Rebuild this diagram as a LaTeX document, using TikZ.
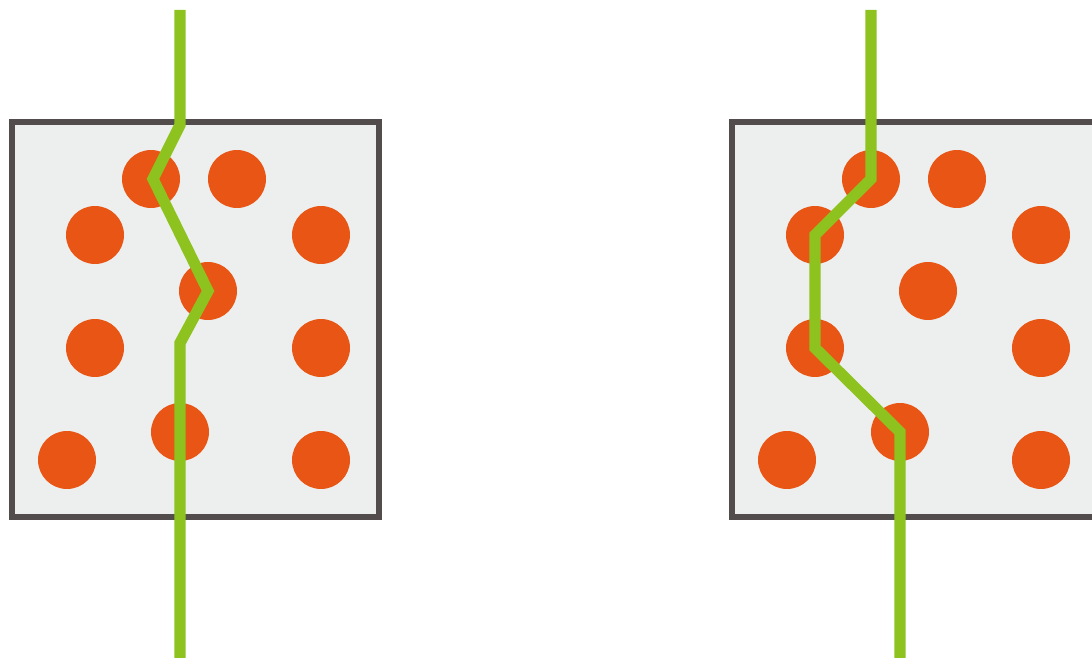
\documentclass[tikz,border=0pt]{standalone}
\usepackage{tikz}

\definecolor{grainorange}{RGB}{232,85,20}
\definecolor{crackgreen}{RGB}{141,194,31}
\definecolor{samplefill}{RGB}{237,239,238}
\definecolor{sampleedge}{RGB}{82,76,76}

\begin{document}
\begin{tikzpicture}[
            x=0.02cm,
            y=-0.02cm,
            sample/.style={draw=sampleedge, fill=samplefill, line width=3.6pt},
            grain/.style={fill=grainorange},
            crack/.style={draw=crackgreen, line width=6.4pt}
        ]
        \useasboundingbox (0,0) rectangle (1092,658);

        % two samples with the same grains
        \foreach \dx in {0,720} {
            \draw[sample] (12+\dx,122) rectangle (379+\dx,517);
            \foreach \px/\py in {151/179, 237/179, 95/235, 321/235, 208/291,
                                 95/348, 321/348, 180/432, 67/460, 321/460}
                \fill[grain] (\px+\dx,\py) circle[radius=0.58cm];
        }

        % left crack, straight through the grains
        \coordinate (L0) at (180,10);
        \coordinate (L1) at (180,125);
        \coordinate (L2) at (153,179);
        \coordinate (L3) at (208,291);
        \coordinate (L4) at (180,343);
        \coordinate (L5) at (180,658);
        \draw[crack] (L0) -- (L1) -- (L2) -- (L3) -- (L4) -- (L5);

        % right crack, round the grains
        \coordinate (R0) at (871,10);
        \coordinate (R1) at (871,179);
        \coordinate (R2) at (815,235);
        \coordinate (R3) at (815,348);
        \coordinate (R4) at (900,432);
        \coordinate (R5) at (900,658);
        \draw[crack] (R0) -- (R1) -- (R2) -- (R3) -- (R4) -- (R5);
    \end{tikzpicture}
\end{document}
